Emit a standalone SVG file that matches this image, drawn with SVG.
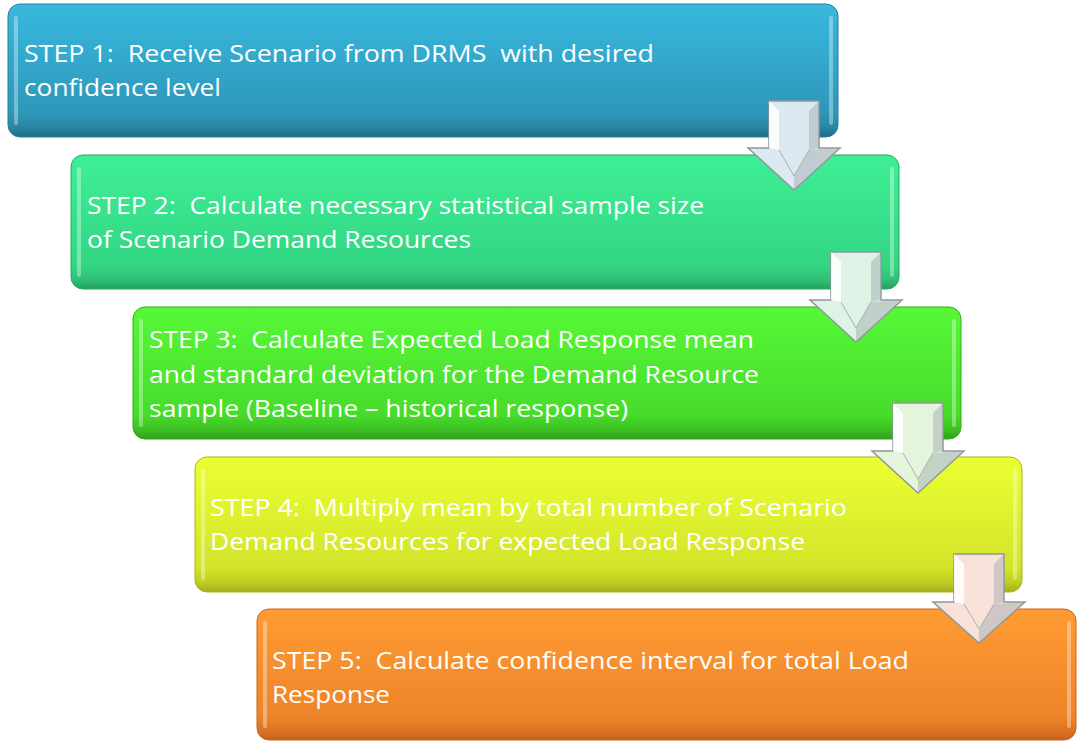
<svg xmlns="http://www.w3.org/2000/svg" width="1080" height="742" viewBox="0 0 1080 742">
<style>
  .t { font-family: "Open Sans", "Liberation Sans", sans-serif; font-size: 24px; fill: #ffffff; white-space: pre; }
  .hl { fill: #ffffff; opacity: 0.35; }
  .aout { stroke: #8e979a; stroke-width: 1.5; stroke-linejoin: miter; }
  .awhite { fill: #ffffff; opacity: 0.85; }
  .agray { fill: #9ea8ab; opacity: 0.45; }
  .aline { stroke: #a8b1b4; stroke-width: 1; fill: none; }
</style>
<defs>
  <linearGradient id="g1" x1="0" y1="0" x2="0" y2="1">
    <stop offset="0" stop-color="#38b9df"/><stop offset="0.82" stop-color="#2e97b9"/><stop offset="0.93" stop-color="#2a85a3"/><stop offset="1" stop-color="#1f6c85"/>
  </linearGradient>
  <linearGradient id="g2" x1="0" y1="0" x2="0" y2="1">
    <stop offset="0" stop-color="#3eef95"/><stop offset="0.82" stop-color="#33d683"/><stop offset="0.93" stop-color="#2fc075"/><stop offset="1" stop-color="#26a062"/>
  </linearGradient>
  <linearGradient id="g3" x1="0" y1="0" x2="0" y2="1">
    <stop offset="0" stop-color="#57f837"/><stop offset="0.82" stop-color="#47dc2b"/><stop offset="0.93" stop-color="#3cc023"/><stop offset="1" stop-color="#319f1c"/>
  </linearGradient>
  <linearGradient id="g4" x1="0" y1="0" x2="0" y2="1">
    <stop offset="0" stop-color="#ebff33"/><stop offset="0.82" stop-color="#d3e42a"/><stop offset="0.93" stop-color="#bfcd22"/><stop offset="1" stop-color="#a4b11b"/>
  </linearGradient>
  <linearGradient id="g5" x1="0" y1="0" x2="0" y2="1">
    <stop offset="0" stop-color="#ff9b33"/><stop offset="0.82" stop-color="#ee842a"/><stop offset="0.93" stop-color="#dc7322"/><stop offset="1" stop-color="#c3621c"/>
  </linearGradient>
</defs>

<g id="step1">
  <rect x="8" y="4" width="830" height="133" rx="12" fill="url(#g1)" stroke="#2a7f9b" stroke-width="1"/>
  <rect class="hl" x="14" y="16" width="4" height="109" rx="2"/>
  <rect class="hl" x="829" y="16" width="4" height="109" rx="2"/>
  <text class="t" x="24" y="62" textLength="630" lengthAdjust="spacingAndGlyphs">STEP 1:  Receive Scenario from DRMS  with desired</text>
  <text class="t" x="24" y="96" textLength="197" lengthAdjust="spacingAndGlyphs">confidence level</text>
</g>
<g id="step2">
  <rect x="71" y="155" width="828" height="134" rx="12" fill="url(#g2)" stroke="#2aa766" stroke-width="1"/>
  <rect class="hl" x="77" y="167" width="4" height="110" rx="2"/>
  <rect class="hl" x="890" y="167" width="4" height="110" rx="2"/>
  <text class="t" x="87" y="214" textLength="617" lengthAdjust="spacingAndGlyphs">STEP 2:  Calculate necessary statistical sample size</text>
  <text class="t" x="87" y="248" textLength="384" lengthAdjust="spacingAndGlyphs">of Scenario Demand Resources</text>
</g>
<g id="step3">
  <rect x="133" y="307" width="828" height="132" rx="12" fill="url(#g3)" stroke="#36a81f" stroke-width="1"/>
  <rect class="hl" x="139" y="319" width="4" height="108" rx="2"/>
  <rect class="hl" x="952" y="319" width="4" height="108" rx="2"/>
  <text class="t" x="149" y="348" textLength="605" lengthAdjust="spacingAndGlyphs">STEP 3:  Calculate Expected Load Response mean</text>
  <text class="t" x="149" y="382.5" textLength="610" lengthAdjust="spacingAndGlyphs">and standard deviation for the Demand Resource</text>
  <text class="t" x="149" y="417" textLength="479" lengthAdjust="spacingAndGlyphs">sample (Baseline – historical response)</text>
</g>
<g id="step4">
  <rect x="195" y="457" width="827" height="135" rx="12" fill="url(#g4)" stroke="#a9b51d" stroke-width="1"/>
  <rect class="hl" x="201" y="469" width="4" height="111" rx="2"/>
  <rect class="hl" x="1013" y="469" width="4" height="111" rx="2"/>
  <text class="t" x="210" y="516" textLength="637" lengthAdjust="spacingAndGlyphs">STEP 4:  Multiply mean by total number of Scenario</text>
  <text class="t" x="210" y="550" textLength="595" lengthAdjust="spacingAndGlyphs">Demand Resources for expected Load Response</text>
</g>
<g id="step5">
  <rect x="257" y="609" width="819" height="131" rx="12" fill="url(#g5)" stroke="#c8661d" stroke-width="1"/>
  <rect class="hl" x="263" y="621" width="4" height="107" rx="2"/>
  <rect class="hl" x="1067" y="621" width="4" height="107" rx="2"/>
  <text class="t" x="272" y="669" textLength="637" lengthAdjust="spacingAndGlyphs">STEP 5:  Calculate confidence interval for total Load</text>
  <text class="t" x="272" y="703" textLength="118" lengthAdjust="spacingAndGlyphs">Response</text>
</g>

<g id="connectors">
  <g id="arrow1">
    <polygon class="aout" fill="#dde9f0" points="769,101 819,101 819,148 840,148 794,190 748,148 769,148"/>
    <polygon class="awhite" points="769,101 779,111 779,150 769,148"/>
    <polygon class="agray" points="819,101 809,111 809,150 819,148"/>
    <polygon class="agray" points="794,190 794,176 809,150 840,148"/>
    <polyline class="aline" points="779,150 794,176 809,150"/>
  </g>
  <g id="arrow2">
    <polygon class="aout" fill="#ddf3e6" points="831,252 881,252 881,300 902,300 856,342 810,300 831,300"/>
    <polygon class="awhite" points="831,252 841,262 841,302 831,300"/>
    <polygon class="agray" points="881,252 871,262 871,302 881,300"/>
    <polygon class="agray" points="856,342 856,328 871,302 902,300"/>
    <polyline class="aline" points="841,302 856,328 871,302"/>
  </g>
  <g id="arrow3">
    <polygon class="aout" fill="#e4f5dc" points="893,403 943,403 943,451 964,451 918,493 872,451 893,451"/>
    <polygon class="awhite" points="893,403 903,413 903,453 893,451"/>
    <polygon class="agray" points="943,403 933,413 933,453 943,451"/>
    <polygon class="agray" points="918,493 918,479 933,453 964,451"/>
    <polyline class="aline" points="903,453 918,479 933,453"/>
  </g>
  <g id="arrow4">
    <polygon class="aout" fill="#f8e1d9" points="954,554 1004,554 1004,602 1025,602 979,643 933,602 954,602"/>
    <polygon class="awhite" points="954,554 964,564 964,604 954,602"/>
    <polygon class="agray" points="1004,554 994,564 994,604 1004,602"/>
    <polygon class="agray" points="979,643 979,629 994,604 1025,602"/>
    <polyline class="aline" points="964,604 979,629 994,604"/>
  </g>
</g>
</svg>
